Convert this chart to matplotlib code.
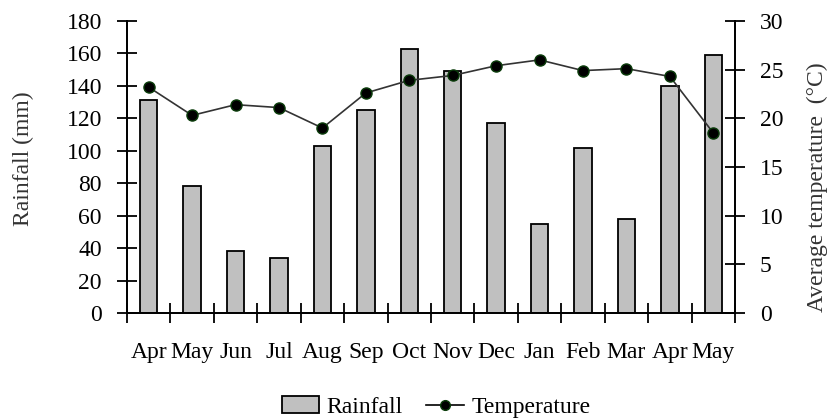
import matplotlib
matplotlib.use("Agg")
import matplotlib.pyplot as plt
from matplotlib.lines import Line2D
from matplotlib.patches import Patch

months = ["Apr", "May", "Jun", "Jul", "Aug", "Sep", "Oct", "Nov", "Dec", "Jan", "Feb", "Mar", "Apr", "May"]
rainfall = [131, 78, 38, 34, 103, 125, 163, 149, 117, 55, 102, 58, 140, 159]
temperature = [23.2, 20.3, 21.4, 21.1, 19.0, 22.6, 23.9, 24.4, 25.4, 26.0, 24.9, 25.1, 24.3, 18.5]

plt.rcParams["font.family"] = ["Liberation Serif", "DejaVu Serif"]
plt.rcParams["font.size"] = 17

fig = plt.figure(figsize=(8.32, 4.19), dpi=100)
ax = fig.add_axes([0.1526, 0.253, 0.7308, 0.697])
ax2 = ax.twinx()

x = list(range(len(months)))
ax.bar(x, rainfall, width=0.4, color="#c0c0c0", edgecolor="black", linewidth=1.3, zorder=2)
ax2.plot(x, temperature, color="#333333", linewidth=1.2, marker="o", markersize=8,
         markerfacecolor="black", markeredgecolor="#0b3d0b", zorder=3)

ax.set_xlim(-0.5, len(months) - 0.5)
ax.set_ylim(0, 180)
ax.set_yticks(range(0, 181, 20))
ax2.set_ylim(0, 30)
ax2.set_yticks(range(0, 31, 5))

ax.set_xticks(x)
ax.set_xticklabels(months)
ax.set_xticks([i - 0.5 for i in range(len(months) + 1)], minor=True)
ax.tick_params(axis="x", which="major", length=0, pad=21)
ax.tick_params(axis="x", which="minor", direction="inout", length=14, width=1.3)
ax.tick_params(axis="y", direction="inout", length=14, width=1.3, pad=11)
ax2.tick_params(axis="y", direction="inout", length=14, width=1.3, pad=11)

for a in (ax, ax2):
    a.spines["top"].set_visible(False)
    for s in ("left", "right", "bottom"):
        a.spines[s].set_linewidth(1.3)
ax2.set_zorder(ax.get_zorder() + 1)
ax2.patch.set_visible(False)

ax.set_ylabel("Rainfall (mm)", color="#333333", va="center")
ax.yaxis.set_label_coords(-0.171, 0.53)
ax2.set_ylabel("Average temperature  (\u00b0C)", color="#333333", va="center")
ax2.yaxis.set_label_coords(1.135, 0.43)

handles = [Patch(facecolor="#c0c0c0", edgecolor="black", linewidth=1.3),
           Line2D([0], [0], color="black", linewidth=1.2, marker="o", markersize=7,
                  markerfacecolor="black", markeredgecolor="#0b3d0b")]
fig.legend(handles, ["Rainfall", "Temperature"], loc="lower center", ncol=2,
           bbox_to_anchor=(0.524, -0.048), frameon=False, handlelength=1.6,
           columnspacing=1.0, handletextpad=0.3)

fig.savefig("out.png", dpi=100)
